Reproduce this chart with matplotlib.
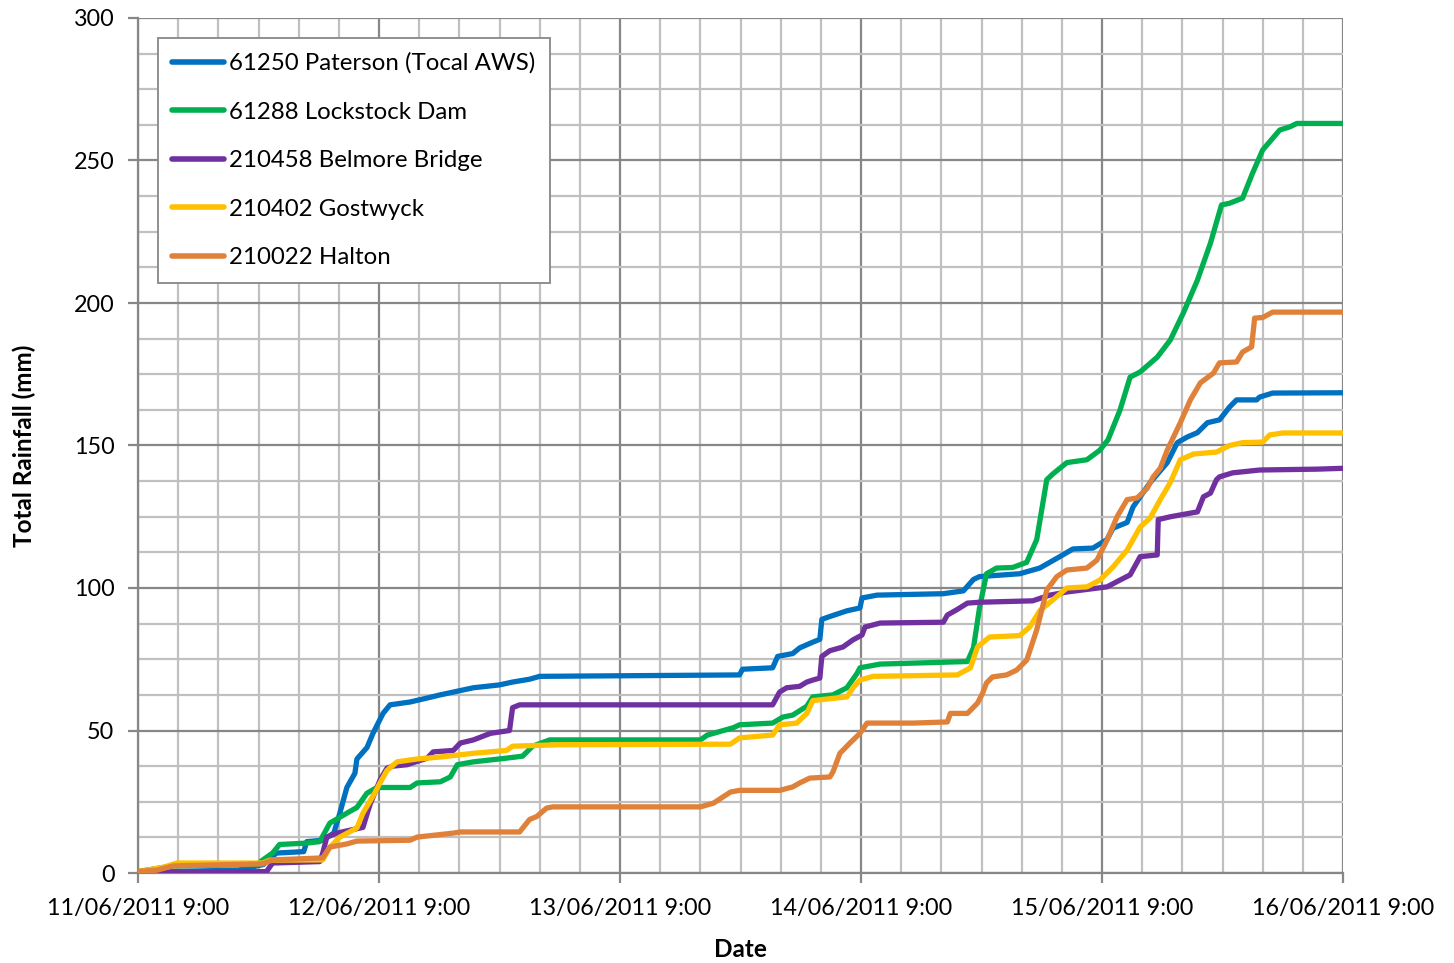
import datetime as dt
import matplotlib
matplotlib.use("Agg")
import matplotlib.pyplot as plt
import matplotlib.dates as mdates
from matplotlib.ticker import FuncFormatter, MultipleLocator

# Cumulative rainfall, hours after 11/06/2011 9:00 vs total rainfall (mm)
paterson_h = [0, 10, 12.5, 13.1, 13.8, 16.5, 16.8, 18.4, 19.5, 20.1, 20.8, 21.6, 21.8, 22.8, 23.4,
              24.4, 25.1, 27.1, 28.8, 30.1, 33.4, 36.0, 37.3, 39.0, 40.0, 59.9, 60.2, 63.2, 63.7,
              65.2, 65.9, 67.2, 67.9, 68.1, 68.9, 70.6, 71.9, 72.1, 73.6, 80.2, 82.2, 83.2, 83.8,
              87.8, 89.8, 91.8, 93.1, 95.1, 96.5, 97.1, 98.5, 99.1, 100.8, 102.5, 103.5, 104.5,
              105.5, 106.5, 107.7, 108.7, 109.4, 111.4, 111.7, 113.0, 120]
paterson_mm = [0.3, 1, 3, 5, 7, 7.5, 11, 11.5, 14, 21, 30, 35, 40, 44, 49,
               56, 59, 60, 61.4, 62.5, 65, 66, 67, 68, 69, 69.5, 71.5, 72, 76,
               77, 79, 81, 82, 89, 90, 92, 93, 96.5, 97.5, 98, 99, 103, 104,
               105, 107, 111, 113.7, 114, 117, 121, 123, 128.5, 137, 144, 151, 153,
               154.5, 158, 159, 163.5, 166, 166, 167, 168.4, 168.5]

lockstock_h = [0, 3.5, 12, 12.2, 13.4, 14.1, 16.8, 18.1, 19.1, 20.8, 21.8, 22.8, 23.8, 27.1, 27.8,
               30.1, 31.1, 31.8, 33.4, 36.7, 38.3, 39.3, 41.0, 56.0, 56.7, 59.3, 59.9, 63.2, 64.2,
               65.2, 66.6, 67.2, 69.2, 70.6, 71.6, 71.9, 73.9, 82.6, 83.2, 83.8, 84.5, 85.5, 87.1,
               88.5, 89.5, 90.5, 91.1, 92.5, 94.5, 95.8, 96.6, 97.8, 98.8, 99.8, 101.5, 102.8,
               104.1, 105.5, 106.8, 107.9, 108.7, 110.0, 111.0, 112.0, 113.7, 114.7, 115.4, 120]
lockstock_mm = [0.5, 2.5, 3, 4, 7, 10, 10.5, 11, 17.5, 21, 23, 28, 30, 30, 31.6,
                32, 33.7, 38, 39, 40.3, 41, 44.5, 46.7, 46.7, 48.4, 51, 52, 52.6, 54.7,
                55.4, 58.5, 61.8, 62.5, 65, 70, 72, 73.3, 74.2, 79, 93, 105, 107, 107.2,
                109, 117, 138, 140, 144, 145, 148.4, 152, 162.5, 174, 175.8, 181, 187,
                196.5, 208, 221, 234.4, 235, 236.8, 245.6, 253.7, 260.7, 261.8, 263, 263]

belmore_h = [0, 12.8, 13.4, 18.1, 18.4, 18.8, 19.8, 22.4, 23.1, 24.1, 24.8, 25.4, 26.8, 28.8, 29.4,
             31.4, 32.1, 33.4, 35.1, 37.0, 37.3, 38.0, 63.2, 63.9, 64.6, 65.9, 66.6, 67.2, 67.9,
             68.1, 68.9, 70.2, 71.2, 72.1, 72.4, 73.9, 80.2, 80.6, 81.6, 82.6, 83.8, 89.1, 90.8,
             92.5, 96.5, 97.8, 98.8, 99.8, 101.5, 101.6, 102.8, 105.5, 106.1, 106.8, 107.4, 107.7,
             109.0, 111.7, 117.4, 120]
belmore_mm = [0, 0.5, 3.5, 4, 7, 12.6, 14, 16, 24, 32.6, 36.8, 37.5, 38, 40.3, 42.5,
              43, 45.6, 46.7, 49, 50, 58, 59, 59, 63.5, 65, 65.5, 67, 67.7, 68.4,
              76, 78, 79.3, 81.8, 83.5, 86.3, 87.7, 88, 90.5, 92.5, 94.7, 95, 95.5, 97.5,
              98.6, 100.4, 102.8, 104.6, 111, 111.6, 124, 125, 126.7, 132, 133.3, 138, 139,
              140.4, 141.4, 141.7, 142]

gostwyck_h = [0, 2.5, 3.9, 12.4, 13.1, 18.4, 19.1, 20.1, 21.8, 22.4, 23.4, 24.1, 24.8, 25.8, 27.8,
              30.1, 33.4, 36.7, 37.3, 42.0, 59.0, 59.9, 63.2, 63.9, 65.6, 66.6, 67.2, 70.6, 71.2,
              71.9, 73.2, 81.6, 82.9, 83.6, 84.8, 87.8, 88.8, 89.8, 91.1, 92.5, 94.5, 95.8, 97.1,
              98.5, 99.8, 100.8, 101.8, 102.8, 103.8, 105.1, 107.4, 108.7, 110.0, 112.0, 112.7,
              114.0, 120]
gostwyck_mm = [0.5, 2, 3.5, 3.5, 4.5, 4.6, 9, 12.6, 15.8, 21, 27, 31.6, 36, 39, 40,
               40.7, 42, 43, 44.5, 45, 45.2, 47.4, 48.4, 52, 52.6, 56, 60.5, 61.8, 65,
               67.7, 69, 69.5, 72, 79.3, 82.8, 83.3, 86.3, 92, 95.8, 100, 100.4, 102.8, 107.4,
               113.3, 121.4, 124.6, 131, 137, 145, 147, 147.7, 150, 151, 151.2, 153.7,
               154.4, 154.4]

halton_h = [0, 1.9, 3.5, 12.4, 13.4, 18.4, 19.1, 20.8, 21.8, 27.1, 27.8, 31.4, 32.1, 38.0, 39.0,
            39.7, 40.7, 41.3, 56.0, 57.3, 59.0, 59.9, 63.9, 65.2, 65.9, 66.9, 68.9, 69.2, 69.9,
            70.9, 71.9, 72.6, 77.2, 80.6, 80.9, 82.6, 83.6, 84.1, 84.5, 85.1, 86.5, 87.5, 88.5,
            89.5, 90.5, 91.5, 92.5, 94.5, 95.5, 96.5, 97.5, 98.5, 99.5, 100.5, 101.1, 101.8,
            102.5, 103.8, 104.8, 105.8, 107.1, 107.7, 109.4, 110.0, 110.9, 111.2, 112.0, 113.0, 120]
halton_mm = [0.5, 1, 2.5, 3.2, 4.6, 5.3, 9.1, 10.2, 11.2, 11.5, 12.6, 14, 14.4, 14.4, 18.8,
             19.8, 22.8, 23.2, 23.2, 24.5, 28.4, 29, 29, 30.2, 31.6, 33.3, 33.7, 35.4, 42,
             45.6, 49, 52.6, 52.6, 53, 56, 56, 59.6, 63, 66.7, 68.8, 69.5, 71.2, 74.7,
             85.3, 99.3, 104, 106.3, 107, 109.8, 116.8, 125, 131, 131.6, 135, 139, 142,
             148.4, 158, 166, 172, 175.4, 179, 179.3, 182.8, 184.6, 194.7, 194.9, 196.8, 196.8]

series_names = ["61250 Paterson (Tocal AWS)", "61288 Lockstock Dam", "210458 Belmore Bridge",
                "210402 Gostwyck", "210022 Halton"]
series_colors = ["#0070C0", "#00B050", "#7030A0", "#FFC000", "#E0813A"]
series_hours = [paterson_h, lockstock_h, belmore_h, gostwyck_h, halton_h]
series_values = [paterson_mm, lockstock_mm, belmore_mm, gostwyck_mm, halton_mm]

start = dt.datetime(2011, 6, 11, 9, 0)
end = start + dt.timedelta(days=5)

FONT = "Lato"
plt.rcParams["font.family"] = FONT

fig = plt.figure(figsize=(14.54, 9.63), dpi=100)
ax = fig.add_axes([138 / 1454, 1 - 873 / 963, (1343 - 138) / 1454, (873 - 18) / 963])

for name, color, hrs, vals in zip(series_names, series_colors, series_hours, series_values):
    times = [start + dt.timedelta(hours=h) for h in hrs]
    ax.plot(times, vals, color=color, lw=3.8, label=name, solid_joinstyle="round",
            solid_capstyle="round", zorder=3)

ax.set_xlim(start, end)
ax.set_ylim(0, 300)

# Major ticks daily at 9:00, minor gridlines every 4 hours
ax.xaxis.set_major_locator(mdates.HourLocator(byhour=[9]))
ax.xaxis.set_minor_locator(mdates.HourLocator(byhour=[1, 5, 13, 17, 21]))


def fmt_date(x, pos=None):
    d = mdates.num2date(x)
    return f"{d:%d/%m/%Y} {d.hour}:{d:%M}"


ax.xaxis.set_major_formatter(FuncFormatter(fmt_date))
ax.yaxis.set_major_locator(MultipleLocator(50))
ax.yaxis.set_minor_locator(MultipleLocator(12.5))

ax.grid(which="major", color="#878787", lw=1.6, zorder=1)
ax.grid(which="minor", color="#C0C0C0", lw=1.6, zorder=0)
ax.set_axisbelow(True)

for side in ["top", "right"]:
    ax.spines[side].set_visible(False)
ax.spines["left"].set_color("#878787")
ax.spines["left"].set_linewidth(1.6)
ax.spines["bottom"].set_color("#878787")
ax.spines["bottom"].set_linewidth(1.6)

ax.tick_params(which="major", direction="out", length=7, width=1.6, color="#878787",
               labelsize=16.8, labelcolor="black")
ax.tick_params(axis="x", which="major", pad=11)
ax.tick_params(axis="y", which="major", pad=10)
ax.tick_params(which="minor", length=0)

ax.set_xlabel("Date", fontsize=17.5, fontweight="bold", labelpad=14)
ax.set_ylabel("Total Rainfall (mm)", fontsize=17.5, fontweight="bold", labelpad=27)

leg = ax.legend(loc="upper left", bbox_to_anchor=(0.0166, 0.9766), fontsize=17.3,
                frameon=True, fancybox=False, edgecolor="#878787", framealpha=1,
                handlelength=2.15, handletextpad=0.2, labelspacing=1.15,
                borderpad=0.6, borderaxespad=0)
leg.get_frame().set_linewidth(1.3)
for line in leg.get_lines():
    line.set_linewidth(4)

fig.savefig("out.png", dpi=100, facecolor="white")
